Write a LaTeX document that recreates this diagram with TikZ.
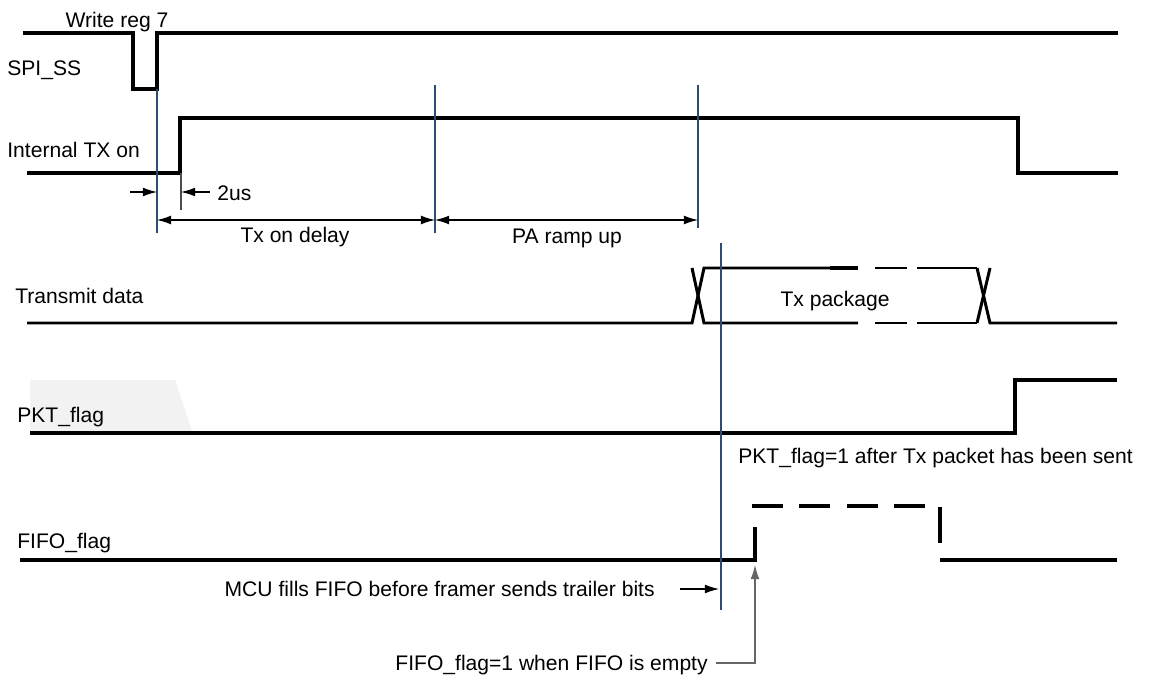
\documentclass[tikz,border=0pt]{standalone}
\usepackage{fontspec}
\setmainfont{Liberation Sans}
\usetikzlibrary{arrows.meta}
\definecolor{guideblue}{RGB}{45,75,115}

\begin{document}
\begin{tikzpicture}[
x=0.02cm, y=-0.02cm,
every node/.style={
font=\fontsize{12}{14}\selectfont,
inner sep=0pt
},
sig/.style={line width=2.4pt},
bus/.style={line width=1.7pt},
busdash/.style={line width=2.4pt},
guide/.style={guideblue, line width=0.6pt},
dim/.style={line width=0.6pt, {Latex[length=8pt,width=5pt]}-{Latex[length=8pt,width=5pt]}},
arr/.style={line width=0.6pt, -{Latex[length=8pt,width=5pt]}}
]

\useasboundingbox (0,0) rectangle (1151,679);

\fill[gray!10] (30,380) -- (175,380) -- (192,431) -- (30,431) -- cycle;

\node[anchor=base] (W) at (117,28) {Write reg 7};
\node[anchor=base west] (S) at (7,75) {SPI\_SS};
\node[anchor=base west] (I) at (7,157) {Internal TX on};
\node[anchor=base west] (T) at (15,303) {Transmit data};
\node[anchor=base west] (P) at (17,422) {PKT\_flag};
\node[anchor=base west] (F) at (17,548) {FIFO\_flag};

\node[anchor=base west] (U) at (217,200) {2us};
\node[anchor=base] (D) at (295,242) {Tx on delay};
\node[anchor=base] (R) at (567,243) {PA ramp up};
\node[anchor=base] (K) at (835,306) {Tx package};
\node[anchor=base west] (PN) at (738,463) {PKT\_flag=1 after Tx packet has been sent};
\node[anchor=base east] (MN) at (655,596) {MCU fills FIFO before framer sends trailer bits};
\node[anchor=base east] (FN) at (708,670) {FIFO\_flag=1 when FIFO is empty};

\draw[sig] (23,33) -- (133,33) -- (133,89) -- (157,89) -- (157,33) -- (1118,33);
\draw[sig] (27,173) -- (180,173) -- (180,118) -- (1018,118) -- (1018,173) -- (1118,173);

\draw[bus] (27,323) -- (692,323) -- (704,268) -- (830,268);
\draw[bus] (692,268) -- (704,323) -- (858,323);
\draw[busdash] (830,268) -- (858,268);
\draw[bus] (875,268) -- (907,268) (917,268) -- (977,268);
\draw[bus] (875,323) -- (907,323) (917,323) -- (977,323);
\draw[bus] (977,268) -- (990,323) -- (1117,323);
\draw[bus] (977,323) -- (990,268);

\draw[sig] (30,433) -- (1015,433) -- (1015,380) -- (1117,380);

\draw[sig] (20,560) -- (755,560) -- (755,527);
\draw[sig, dash pattern=on 17.5pt off 9.5pt] (752,506) -- (925,506);
\draw[sig] (940,507) -- (940,543);
\draw[sig] (940,560) -- (1117,560);

\draw[guide] (157,89) -- (157,233);
\draw[guide, black!70] (181,173) -- (181,210);
\draw[guide] (435,85) -- (435,233);
\draw[guide] (698,85) -- (698,228);
\draw[guide] (721,243) -- (721,610);

\coordinate (a1) at (130,192);
\coordinate (a2) at (157,192);
\coordinate (a3) at (210,192);
\coordinate (a4) at (181,192);
\draw[arr] (a1) -- (a2);
\draw[arr] (a3) -- (a4);

\coordinate (d1) at (157,220);
\coordinate (d2) at (435,220);
\coordinate (d3) at (698,220);
\draw[dim] (d1) -- (d2);
\draw[dim] (d2) -- (d3);

\coordinate (m1) at (680,589);
\coordinate (m2) at (719,589);
\draw[arr] (m1) -- (m2);

\coordinate (f1) at (716,663);
\coordinate (f2) at (755,565);
\draw[arr, gray!80!black] (f1) -| (f2);

\end{tikzpicture}
\end{document}
